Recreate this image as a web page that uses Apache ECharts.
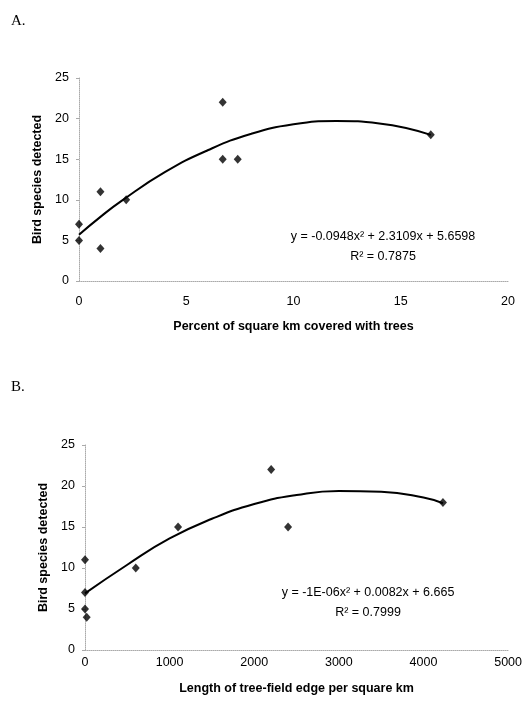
<!DOCTYPE html>
<html>
<head>
<meta charset="utf-8">
<title>Bird species vs tree cover</title>
<script src="https://cdn.jsdelivr.net/npm/echarts@6/dist/echarts.min.js"></script>
<style>
  html, body { margin: 0; padding: 0; background: #fff; }
  #main { width: 525px; height: 703px; }
</style>
</head>
<body>
<div id="main"></div>
<script>
// ~~ Data

// A. percent of square km covered with trees
const treeCoverX = [0, 0, 1, 1, 2.2, 6.7, 6.7, 7.4, 16.4]
const treeCoverY = [5, 7, 11, 4, 10, 22, 15, 15, 18]
const treeFitX = [0, 1, 2, 4, 6, 8, 10, 12, 14, 16.4]
const treeFitY = [5.7, 7.9, 9.9, 13.4, 16.1, 18.1, 19.3, 19.7, 19.4, 18.0]

// B. length of tree-field edge per square km
const edgeX = [0, 0, 0, 20, 600, 1100, 2200, 2400, 4230]
const edgeY = [5, 7, 11, 4, 10, 15, 22, 15, 18]
const edgeFitX = [0, 500, 1000, 1500, 2000, 2500, 3000, 3500, 4000, 4230]
const edgeFitY = [6.9, 10.4, 13.6, 16.0, 17.8, 18.9, 19.4, 19.3, 18.6, 17.9]

const yTicks = [0, 5, 10, 15, 20, 25]

const eqA = ['y = -0.0948x\u00b2 + 2.3109x + 5.6598', 'R\u00b2 = 0.7875']
const eqB = ['y = -1E-06x\u00b2 + 0.0082x + 6.665', 'R\u00b2 = 0.7999']

const pairs = (xs, ys) => xs.map((x, i) => [x, ys[i]])

const FONT = '"Liberation Sans", Arial, sans-serif'
const axisLine = { show: true, lineStyle: { color: '#aaa', type: 'dotted', width: 1 } }

const _xAxis = function (gridIndex, max, interval, name, nameGap, labelMargin) {
  return {
    type: 'value',
    gridIndex: gridIndex,
    min: 0,
    max: max,
    interval: interval,
    name: name,
    nameLocation: 'middle',
    nameGap: nameGap,
    nameTextStyle: { fontFamily: FONT, fontSize: 12.5, fontWeight: 'bold', color: '#000' },
    axisLine: axisLine,
    axisTick: { show: false },
    splitLine: { show: false },
    axisLabel: { fontFamily: FONT, fontSize: 12.5, color: '#000', margin: labelMargin, formatter: (v) => String(v) },
  }
}

const _yAxis = function (gridIndex, nameGap) {
  return {
    type: 'value',
    gridIndex: gridIndex,
    min: yTicks[0],
    max: yTicks[yTicks.length - 1],
    interval: yTicks[1] - yTicks[0],
    name: 'Bird species detected',
    nameLocation: 'middle',
    nameGap: nameGap,
    nameTextStyle: { fontFamily: FONT, fontSize: 12.5, fontWeight: 'bold', color: '#000' },
    axisLine: axisLine,
    axisTick: { show: true, length: 3, lineStyle: { color: '#aaa' } },
    splitLine: { show: false },
    axisLabel: { fontFamily: FONT, fontSize: 12.5, color: '#000', margin: 10 },
  }
}

const _scatter = function (idx, data) {
  return {
    type: 'scatter',
    xAxisIndex: idx,
    yAxisIndex: idx,
    data: data,
    symbol: 'diamond',
    symbolSize: [8, 9],
    itemStyle: { color: '#000' },
    z: 3,
  }
}

const _fit = function (idx, data) {
  return {
    type: 'line',
    xAxisIndex: idx,
    yAxisIndex: idx,
    data: data,
    smooth: true,
    showSymbol: false,
    lineStyle: { color: '#000', width: 2 },
    z: 2,
  }
}

const _eqText = function (lines, cx, y) {
  return lines.map((t, i) => ({
    type: 'text',
    x: cx,
    y: y + i * 20,
    style: {
      text: t,
      fontFamily: FONT,
      fontSize: 12.5,
      align: 'center',
      verticalAlign: 'middle',
      fill: '#000',
    },
  }))
}

const option = {
  backgroundColor: '#fff',
  animation: false,
  grid: [
    { left: 79, top: 78, width: 429, height: 203 },
    { left: 85, top: 445, width: 427, height: 205 },
  ],
  xAxis: [
    _xAxis(0, 20, 5, 'Percent of square km covered with trees', 39, 14),
    _xAxis(1, 5000, 1000, 'Length of tree-field edge per square km', 32, 6),
  ],
  yAxis: [_yAxis(0, 34), _yAxis(1, 35)],
  series: [
    _fit(0, pairs(treeFitX, treeFitY)),
    _scatter(0, pairs(treeCoverX, treeCoverY)),
    _fit(1, pairs(edgeFitX, edgeFitY)),
    _scatter(1, pairs(edgeX, edgeY)),
  ],
  graphic: [
    { type: 'text', left: 11, top: 14, style: { text: 'A.', fontFamily: '"Liberation Serif", "Times New Roman", serif', fontSize: 15, fill: '#000' } },
    { type: 'text', left: 11, top: 380, style: { text: 'B.', fontFamily: '"Liberation Serif", "Times New Roman", serif', fontSize: 15, fill: '#000' } },
    ..._eqText(eqA, 383, 237),
    ..._eqText(eqB, 368, 593),
  ],
}

const c = echarts.init(document.getElementById('main'), null, { renderer: 'canvas' })
c.setOption(option)
</script>
</body>
</html>
